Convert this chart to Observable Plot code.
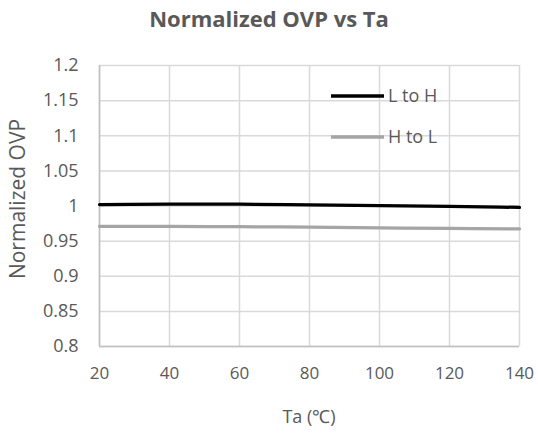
<!DOCTYPE html>
<html>
<head>
<meta charset="utf-8">
<script src="https://cdn.jsdelivr.net/npm/d3@7"></script>
<script src="https://cdn.jsdelivr.net/npm/@observablehq/plot@0.6"></script>
<style>
  html, body { margin: 0; padding: 0; background: #fff; }
  #wrap { position: relative; width: 538px; height: 433px; font-family: "Open Sans", sans-serif; }
  #title { box-sizing: border-box; height: 40px; padding-top: 3px; line-height: 30px; text-align: center; font-weight: bold; font-size: 22px; color: #595959; padding-left: 0px; }
  #chart svg { display: block; }
</style>
</head>
<body>
<div id="wrap">
  <div id="title">Normalized OVP vs Ta</div>
  <div id="chart"></div>
</div>
<script>
const ta = [20, 40, 60, 80, 100, 120, 140];
const lToH = [1.002, 1.0025, 1.0025, 1.0015, 1.0005, 0.9995, 0.998];
const hToL = [0.971, 0.971, 0.9705, 0.970, 0.969, 0.968, 0.9675];
const seriesNames = ["L to H", "H to L"];
const seriesColors = ["#000000", "#a5a5a5"];
const xTicks = [20, 40, 60, 80, 100, 120, 140];
const yTicks = [0.8, 0.85, 0.9, 0.95, 1.0, 1.05, 1.1, 1.15, 1.2];

const rows = [];
ta.forEach((t, i) => {
  rows.push({ta: t, v: lToH[i], s: seriesNames[0]});
  rows.push({ta: t, v: hToL[i], s: seriesNames[1]});
});

const W = 538, H = 393, mT = 25, mB = 87, mL = 99, mR = 19;
const fmtY = d => d3.format("~g")(+(+d).toFixed(2));

const plot = Plot.plot({
  width: W,
  height: H,
  marginTop: mT,
  marginBottom: mB,
  marginLeft: mL,
  marginRight: mR,
  style: { fontFamily: "Open Sans, sans-serif", fontSize: "17px", color: "#595959", background: "#fff" },
  x: { domain: [20, 140], label: null },
  y: { domain: [0.8, 1.2], label: null },
  color: { domain: seriesNames, range: seriesColors },
  marks: [
    Plot.gridX(xTicks, { stroke: "#d9d9d9", strokeOpacity: 1, strokeWidth: 1.5 }),
    Plot.gridY(yTicks, { stroke: "#d9d9d9", strokeOpacity: 1, strokeWidth: 1.5 }),
    Plot.ruleX([20], { stroke: "#bfbfbf", strokeWidth: 1.5 }),
    Plot.ruleY([0.8], { stroke: "#bfbfbf", strokeWidth: 1.5 }),
    Plot.axisX(xTicks, { tickSize: 0, tickPadding: 20, fontSize: 17, fill: "#595959", label: null }),
    Plot.axisY(yTicks, { tickSize: 0, tickPadding: 21, fontSize: 18, fill: "#595959", label: null, tickFormat: fmtY }),
    Plot.line(rows, { x: "ta", y: "v", stroke: "s", z: "s", strokeWidth: 3.25, curve: "natural" })
  ]
});
document.getElementById("chart").appendChild(plot);

const svg = d3.select(plot);
// axis titles
svg.append("text")
  .attr("x", mL + (W - mL - mR) / 2).attr("y", 383)
  .attr("text-anchor", "middle").attr("fill", "#595959")
  .style("font-size", "18px").style("font-family", "Open Sans, sans-serif")
  .text("Ta (℃)");
svg.append("text")
  .attr("transform", `translate(19, ${159}) rotate(-90)`)
  .attr("text-anchor", "middle").attr("dominant-baseline", "middle").attr("fill", "#595959")
  .style("font-size", "21px").style("font-family", "Open Sans, sans-serif")
  .text("Normalized OVP");
// legend
const legY = [56, 97];
seriesNames.forEach((n, i) => {
  svg.append("line").attr("x1", 331).attr("x2", 384).attr("y1", legY[i]).attr("y2", legY[i])
    .attr("stroke", seriesColors[i]).attr("stroke-width", 3.5);
  svg.append("text").attr("x", 388).attr("y", legY[i]).attr("dy", "0.35em")
    .attr("text-anchor", "start")
    .attr("fill", "#595959").style("font-size", "18px").style("font-family", "Open Sans, sans-serif")
    .text(n);
});
</script>
</body>
</html>
